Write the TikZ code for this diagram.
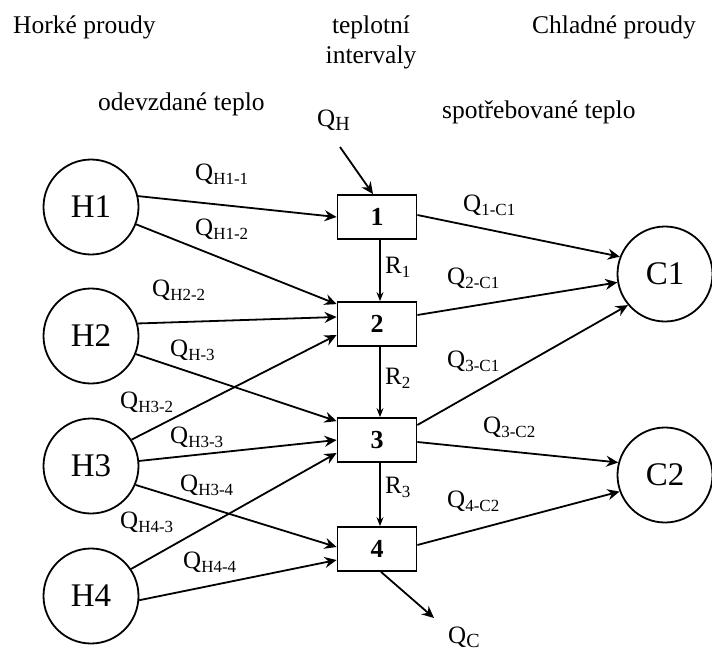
\documentclass[tikz,border=0pt]{standalone}
\usepackage{fontspec}
\setmainfont{Liberation Serif}
\usetikzlibrary{arrows.meta, calc}
\tikzstyle{stream}   = [circle, draw, line width=1.8pt, minimum size=95pt,
                        inner sep=0pt, font=\fontsize{33}{33}\selectfont]
\tikzstyle{interval} = [rectangle, draw, line width=1.8pt, minimum width=79pt,
                        minimum height=44pt, inner sep=0pt,
                        font=\fontsize{26}{26}\selectfont\bfseries]
\tikzstyle{arrow}    = [-{Stealth[length=12pt, width=11pt, inset=4pt]}, line width=1.8pt]
\tikzstyle{rarrow}   = [-{Stealth[length=9pt, width=7pt, inset=3pt]}, line width=1.2pt]
\tikzstyle{qlabel}   = [inner sep=0pt, anchor=west, font=\fontsize{25}{25}\selectfont]
\tikzstyle{head}     = [inner sep=0pt, anchor=base west, font=\fontsize{25.5}{30}\selectfont]
\newcommand{\lsub}[3][17]{#2\raisebox{-4pt}{\fontsize{#1}{#1}\selectfont #3}}

\begin{document}
\begin{tikzpicture}[x=1pt, y=-1pt]
  \useasboundingbox (0,0) rectangle (712,653);

  \node (H1) [stream] at (91,207) {H1};
  \node (H2) [stream] at (91,336) {H2};
  \node (H3) [stream] at (91,466) {H3};
  \node (H4) [stream] at (91,596) {H4};
  \node (C1) [stream] at (665,274) {C1};
  \node (C2) [stream] at (665,475) {C2};

  \node (i1) [interval] at (377,217) {1};
  \node (i2) [interval] at (377,324) {2};
  \node (i3) [interval] at (377,440) {3};
  \node (i4) [interval] at (377,549) {4};

  % Headings
  \node (hot)  [head] at (13,33)  {Horké proudy};
  \node (tint) [head, anchor=base] at (371,33) {teplotní};
  \node (tin2) [head, anchor=base] at (371,63) {intervaly};
  \node (cold) [head] at (532,33) {Chladné proudy};
  \node (odv)  [head] at (98,110) {odevzdané teplo};
  \node (spo)  [head] at (442,118) {spotřebované teplo};

  % Hot streams to intervals
  \draw [arrow] (H1.13)  -- (i1.west);
  \draw [arrow] (H1.-21) -- ([yshift=-3pt]i2.north west);
  \draw [arrow] (H2.15)  -- ([yshift=7pt]i2.west);
  \draw [arrow] (H2.-22) -- ([yshift=-4pt]i3.north west);
  \draw [arrow] (H3.33)  -- ([yshift=-11pt]i2.west);
  \draw [arrow] (H3.6)   -- (i3.west);
  \draw [arrow] (H4.34)  -- ([yshift=-13pt]i3.west);
  \draw [arrow] (H3.-23) -- ([yshift=2pt]i4.west);
  \draw [arrow] (H4.-5)  -- ([yshift=-11pt]i4.west);

  % Intervals to cold streams
  \draw [arrow] ([yshift=2pt]i1.east)  -- (C1.159);
  \draw [arrow] ([yshift=9pt]i2.east)  -- (C1.190);
  \draw [arrow] ([yshift=15pt]i3.east) -- (C1.220);
  \draw [arrow] ([yshift=-2pt]i3.east) -- (C2.165);
  \draw [arrow] ([yshift=4pt]i4.east)  -- (C2.200);

  % Residuals
  \draw [rarrow] ([xshift=3pt]i1.south) -- ([xshift=3pt]i2.north);
  \draw [rarrow] ([xshift=3pt]i2.south) -- ([xshift=3pt]i3.north);
  \draw [rarrow] ([xshift=3pt]i3.south) -- ([xshift=3pt]i4.north);

  % Utilities
  \coordinate (qhs) at (340,147);
  \coordinate (qce) at (434,618);
  \draw [arrow] (qhs) -- ([xshift=-4pt]i1.north);
  \draw [arrow] ([xshift=4pt]i4.south) -- (qce);

  % Labels
  \node (qh)   [qlabel] at (317,120) {\lsub[20]{Q}{H}};
  \node (qc)   [qlabel] at (448,637) {\lsub[20]{Q}{C}};
  \node (qh11) [qlabel] at (195,174) {\lsub{Q}{H1-1}};
  \node (qh12) [qlabel] at (195,229) {\lsub{Q}{H1-2}};
  \node (qh22) [qlabel] at (152,290) {\lsub{Q}{H2-2}};
  \node (qh3)  [qlabel] at (170,350) {\lsub{Q}{H-3}};
  \node (qh32) [qlabel] at (120,402) {\lsub{Q}{H3-2}};
  \node (qh33) [qlabel] at (170,437) {\lsub{Q}{H3-3}};
  \node (qh34) [qlabel] at (180,485) {\lsub{Q}{H3-4}};
  \node (qh43) [qlabel] at (120,522) {\lsub{Q}{H4-3}};
  \node (qh44) [qlabel] at (183,562) {\lsub{Q}{H4-4}};
  \node (q1c1) [qlabel] at (463,205) {\lsub{Q}{1-C1}};
  \node (q2c1) [qlabel] at (447,278) {\lsub{Q}{2-C1}};
  \node (q3c1) [qlabel] at (447,361) {\lsub{Q}{3-C1}};
  \node (q3c2) [qlabel] at (483,427) {\lsub{Q}{3-C2}};
  \node (q4c2) [qlabel] at (447,501) {\lsub{Q}{4-C2}};
  \node (r1)   [qlabel] at (385,267) {\lsub{R}{1}};
  \node (r2)   [qlabel] at (385,378) {\lsub{R}{2}};
  \node (r3)   [qlabel] at (385,487) {\lsub{R}{3}};
\end{tikzpicture}
\end{document}
